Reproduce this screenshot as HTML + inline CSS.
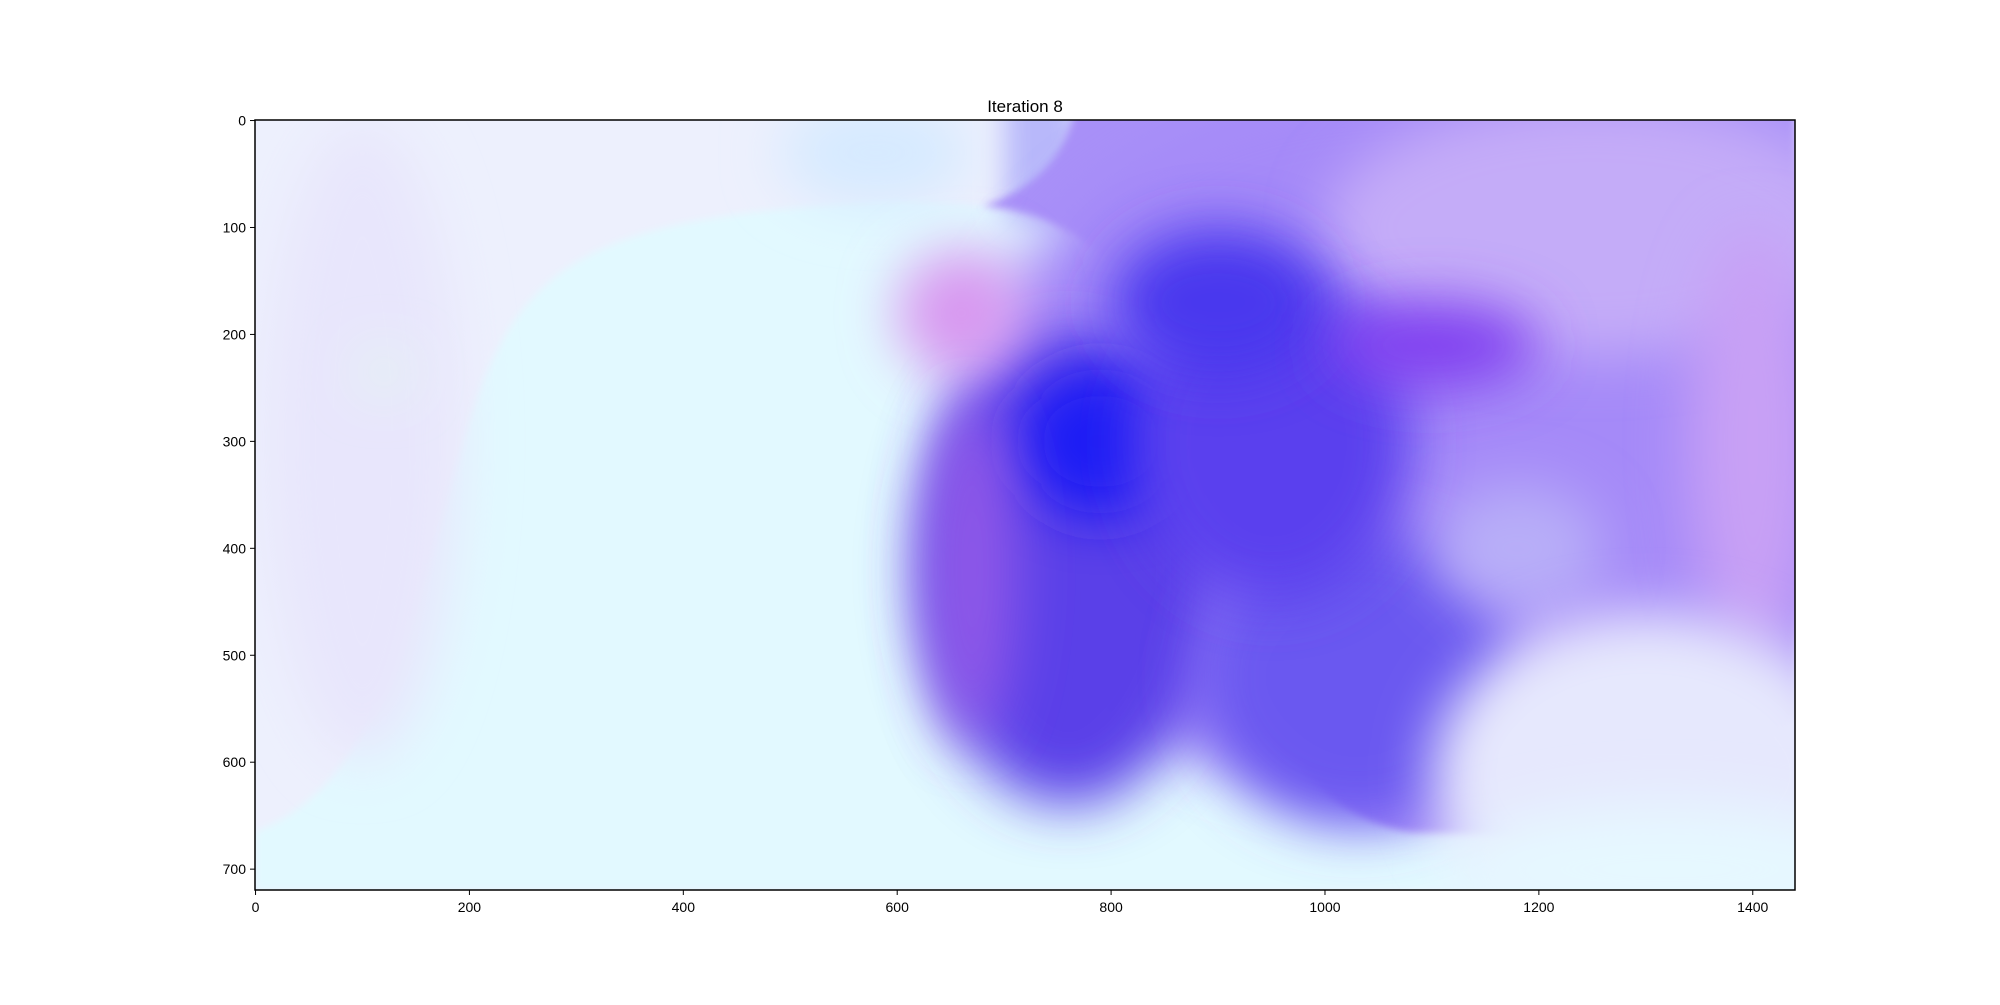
<!DOCTYPE html>
<html><head><meta charset="utf-8"><style>
body{margin:0;background:#fff;width:2000px;height:1000px;overflow:hidden;font-family:"Liberation Sans","DejaVu Sans",sans-serif}
</style></head><body>
<svg id="chart" width="2000" height="1000" xmlns="http://www.w3.org/2000/svg">
<defs>
<filter id="blurBig" filterUnits="userSpaceOnUse" x="0" y="0" width="2000" height="1000"><feGaussianBlur stdDeviation="28"/></filter>
<filter id="blurSmall" filterUnits="userSpaceOnUse" x="0" y="0" width="2000" height="1000"><feGaussianBlur stdDeviation="4"/></filter>
<filter id="blurMid" filterUnits="userSpaceOnUse" x="0" y="0" width="2000" height="1000"><feGaussianBlur stdDeviation="14"/></filter>
<clipPath id="axclip"><rect x="255" y="120" width="1540" height="770"/></clipPath>
</defs>
<g id="img" clip-path="url(#axclip)"></g>
<g id="axes"></g>
</svg>
<script>
const xTicks=[0,200,400,600,800,1000,1200,1400];
const yTicks=[0,100,200,300,400,500,600,700];
const blobCx=[1080,1250,1400,760,790,1030,950,900,660,670,1180,1300,1100,580,100,120,1320];
const blobCy=[300,100,300,420,300,520,300,170,180,420,400,610,210,30,300,235,700];
const blobRx=[420,250,60,140,80,150,130,100,60,40,80,200,100,90,90,20,200];
const blobRy=[330,120,200,220,70,140,150,70,60,160,60,150,40,50,300,15,60];
const blobColor=['#a58af8','#c4acf8','#c8a0f5','#5a40e8','#1a1af5','#6a58f0','#5a40ee','#4a38ee','#d898f0','#9058e8','#b8aef8','#e6e8fd','#8040f0','#d6eaff','#e8e6fc','#e0ffe8','#e6f8ff'];
const X=d=>255+(d+0.5)*1540/1440, Y=d=>120+(d+0.5)*770/720;
const NS='http://www.w3.org/2000/svg';
function mk(tag,attrs,parent){const e=document.createElementNS(NS,tag);for(const k in attrs)e.setAttribute(k,attrs[k]);parent.appendChild(e);return e;}
const img=document.getElementById('img'), ax=document.getElementById('axes');
const bg=mk('rect',{x:255,y:120,width:1540,height:770,fill:'#edf0fd'},img);


function P(pts){return pts.map(p=>typeof p==='string'?p:X(p[0])+','+Y(p[1])).join(' ');}
const cyan=mk('path',{d:P(['M',[0,665],'C',[120,620],[150,450],[200,280],'C',[250,120],[330,90],[600,75],'L',[660,78],'C',[760,85],[830,130],[870,280],'C',[920,480],[940,640],[1080,665],'L',[1440,680],[1440,720],[0,720],'Z']),fill:'#e2f9ff',filter:'url(#blurSmall)'},img);


const rightTop=mk('path',{d:P(['M',[700,-50],'L',[760,-50],[790,110],[700,90],'Z']),fill:'#b8b8fa',filter:'url(#blurMid)'},img);


const right=mk('path',{d:P(['M',[680,80],'C',[760,85],[830,130],[870,280],'C',[920,480],[940,640],[1080,665],'L',[1250,670],[1440,560],[1440,-50],[770,-50],'C',[770,20],[740,60],[680,80],'Z']),fill:'#a890f8',filter:'url(#blurSmall)'},img);


for(let i=0;i<blobCx.length;i++){
 const e=mk('ellipse',{cx:X(blobCx[i]),cy:Y(blobCy[i]),rx:blobRx[i]*1540/1440,ry:blobRy[i]*770/720,fill:blobColor[i],filter:'url(#blurBig)'},img);
 
 
}
const frame=mk('rect',{x:255,y:120,width:1540,height:770,fill:'none',stroke:'#000','stroke-width':1.5},ax);


xTicks.forEach(t=>{const x=X(t);
 const l=mk('line',{x1:x,y1:890,x2:x,y2:895,stroke:'#000','stroke-width':1},ax);
 
 const tx=mk('text',{x:x,y:912,'font-size':14,'text-anchor':'middle'},ax);tx.textContent=t;
 });
yTicks.forEach(t=>{const y=Y(t);
 const l=mk('line',{x1:250,y1:y,x2:255,y2:y,stroke:'#000','stroke-width':1},ax);
 
 const tx=mk('text',{x:246,y:y+5,'font-size':14,'text-anchor':'end'},ax);tx.textContent=t;
 });
const title=mk('text',{x:1025,y:112,'font-size':17,'text-anchor':'middle'},ax);title.textContent='Iteration 8';


</script>
</body></html>
